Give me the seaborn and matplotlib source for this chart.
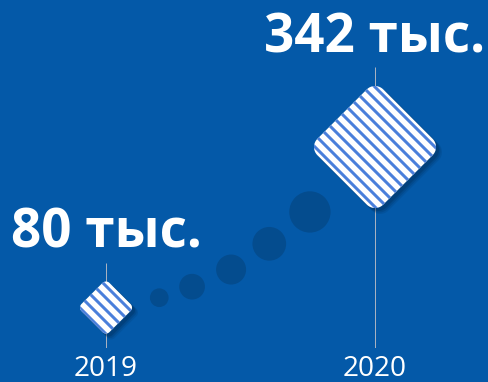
import numpy as np
import pandas as pd
import seaborn as sns
import matplotlib
matplotlib.use("Agg")
import matplotlib.pyplot as plt
from matplotlib.path import Path
from matplotlib.markers import MarkerStyle
import matplotlib.transforms as mtransforms

# ---------------- data ----------------
years = [2019, 2020]
year_labels = ["2019", "2020"]
values = [80, 342]
value_labels = ["80 тыс.", "342 тыс."]
# decorative dots leading from 2019 to 2020
dot_x = [2019.198, 2019.320, 2019.465, 2019.607, 2019.758]
dot_y = [96, 114, 142, 184, 236]

# ---------------- style ----------------
BG = "#0459A8"
DOT = "#044C8E"
STRIPE = "#4A7FDB"
LINE = "#A7B1C1"
SHADOW = "#00264d"
diamond_px = [52, 122]
dot_px = [18.7, 25.7, 30, 33.7, 41.3]

DPI = 72
W, H = 488, 382
AX_BOTTOM_PX = 34
YLIM = (13.9, 582)
XLIM = (2018.606, 2020.420)

plt.rcParams["hatch.linewidth"] = 3.0
plt.rcParams["font.family"] = ["Open Sans", "DejaVu Sans"]


def rounded_diamond(r=0.25, n=14):
    pts = []
    corners = [(1, 1), (-1, 1), (-1, -1), (1, -1)]
    starts = [0, 90, 180, 270]
    for (cx, cy), a0 in zip(corners, starts):
        ccx = cx - np.sign(cx) * r
        ccy = cy - np.sign(cy) * r
        for t in np.linspace(np.radians(a0), np.radians(a0 + 90), n):
            pts.append((ccx + r * np.cos(t), ccy + r * np.sin(t)))
    pts = np.array(pts)
    c, s = np.cos(np.pi / 4), np.sin(np.pi / 4)
    pts = pts @ np.array([[c, -s], [s, c]]).T
    pts = np.vstack([pts, pts[:1]])
    codes = [Path.MOVETO] + [Path.LINETO] * (len(pts) - 2) + [Path.CLOSEPOLY]
    return Path(pts, codes)


DIAMOND = MarkerStyle(rounded_diamond())

fig = plt.figure(figsize=(W / DPI, H / DPI), dpi=DPI, facecolor=BG)
ax = fig.add_axes([0, AX_BOTTOM_PX / H, 1, 1 - AX_BOTTOM_PX / H])
ax.set_facecolor(BG)
ax.set_xlim(*XLIM)
ax.set_ylim(*YLIM)

ax_h_px = H - AX_BOTTOM_PX
px_per_unit = ax_h_px / (YLIM[1] - YLIM[0])

# vertical guide lines
tops = [v + (d / 2 + 19) / px_per_unit for v, d in zip(values, diamond_px)]
ax.vlines(years, YLIM[0], tops, color=LINE, lw=1, zorder=1)

# dots
sns.scatterplot(x=dot_x, y=dot_y, s=[d ** 2 for d in dot_px], color=DOT,
                edgecolor=DOT, linewidth=0, ax=ax, legend=False, zorder=2)

# soft shadows
for off, a, grow in [(5, 0.12, 2), (4, 0.18, 1), (3, 0.25, 0)]:
    sns.scatterplot(x=years, y=values, s=[(d + grow) ** 2 for d in diamond_px],
                    marker=DIAMOND, color=SHADOW, edgecolor=SHADOW, linewidth=0,
                    alpha=a, ax=ax, legend=False, zorder=3)
    coll = ax.collections[-1]
    coll.set_offset_transform(ax.transData + mtransforms.ScaledTranslation(
        off / DPI, -off / DPI, fig.dpi_scale_trans))

# striped diamonds
sns.scatterplot(x=years, y=values, s=[d ** 2 for d in diamond_px],
                marker=DIAMOND, color="white", edgecolor=STRIPE, linewidth=0,
                hatch="\\\\", ax=ax, legend=False, zorder=4)

# value labels
for x, v, lab, d in zip(years, values, value_labels, diamond_px):
    ax.annotate(lab, xy=(x, v), xytext=(0, d / 2 + 34), textcoords="offset points",
                ha="center", va="baseline", fontsize=53, fontweight="bold",
                color="white", zorder=5)

ax.set_xticks(years, year_labels)
ax.set_yticks([])
ax.tick_params(axis="x", length=0, pad=7, labelsize=28, labelcolor="white")
ax.set_xlabel("")
ax.set_ylabel("")
for sp in ax.spines.values():
    sp.set_visible(False)

fig.savefig("out.png", dpi=DPI, facecolor=BG)
